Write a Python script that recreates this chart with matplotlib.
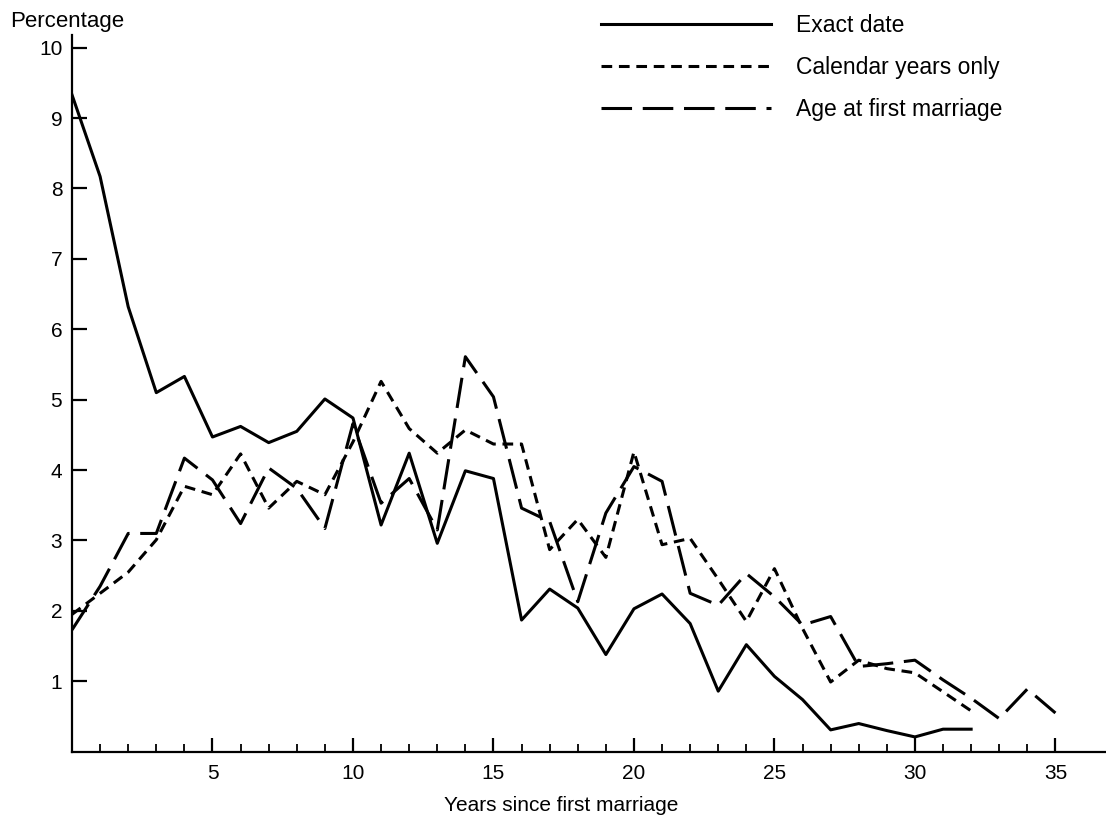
import matplotlib
matplotlib.use("Agg")
import matplotlib.pyplot as plt
from matplotlib.ticker import FixedLocator

plt.rcParams['font.family'] = ['Liberation Sans', 'DejaVu Sans']

# percentages by years since first marriage
years_exact = list(range(0, 33))
exact_date = [9.33, 8.17, 6.32, 5.10, 5.33, 4.47, 4.62, 4.39, 4.55, 5.01,
              4.74, 3.22, 4.24, 2.96, 3.99, 3.88, 1.87, 2.31, 2.04, 1.38,
              2.03, 2.24, 1.82, 0.86, 1.52, 1.07, 0.74, 0.31, 0.40, 0.30,
              0.21, 0.32, 0.32]

years_calendar = list(range(0, 33))
calendar_years = [1.95, 2.25, 2.55, 3.01, 3.77, 3.65, 4.23, 3.46, 3.84, 3.65,
                  4.40, 5.26, 4.59, 4.24, 4.57, 4.37, 4.37, 2.87, 3.30, 2.76,
                  4.26, 2.94, 3.03, 2.45, 1.85, 2.60, 1.75, 0.99, 1.30, 1.18,
                  1.12, 0.85, 0.58]

years_age = list(range(0, 36))
age_first_marriage = [1.73, 2.35, 3.10, 3.10, 4.17, 3.86, 3.24, 4.03, 3.74, 3.17,
                      4.66, 3.53, 3.88, 3.15, 5.61, 5.04, 3.46, 3.27, 2.13, 3.39,
                      4.05, 3.84, 2.25, 2.08, 2.53, 2.20, 1.80, 1.92, 1.21, 1.25,
                      1.30, 1.02, 0.76, 0.47, 0.89, 0.55]

labels = ['Exact date', 'Calendar years only', 'Age at first marriage']

fig = plt.figure(figsize=(11.06, 8.21), dpi=100)
ax = fig.add_axes([0.0651, 0.0844, 0.9349, 0.873])

lw = 2.2
ax.plot(years_exact, exact_date, color='black', lw=lw, label=labels[0])
ax.plot(years_calendar, calendar_years, color='black', lw=lw,
        linestyle=(0, (3.5, 2.2)), label=labels[1])
ax.plot(years_age, age_first_marriage, color='black', lw=lw,
        linestyle=(0, (10, 3.5)), label=labels[2])

ax.set_xlim(0, 36.8)
ax.set_ylim(0, 10.18)

for side in ['top', 'right']:
    ax.spines[side].set_visible(False)
for side in ['left', 'bottom']:
    ax.spines[side].set_linewidth(1.6)

ax.xaxis.set_major_locator(FixedLocator([5, 10, 15, 20, 25, 30, 35]))
ax.xaxis.set_minor_locator(FixedLocator([i for i in range(1, 35) if i % 5 != 0]))
ax.yaxis.set_major_locator(FixedLocator(range(1, 11)))

ax.tick_params(axis='x', which='major', direction='in', length=10, width=1.6,
               pad=9, labelsize=15)
ax.tick_params(axis='x', which='minor', direction='in', length=5.5, width=1.3)
ax.tick_params(axis='y', which='major', direction='in', length=11, width=1.6,
               pad=7, labelsize=15)

fig.text(0.009, 1 - 22 / 821, 'Percentage', fontsize=16, ha='left', va='center')
fig.text(561 / 1106, 1 - 805 / 821, 'Years since first marriage', fontsize=15,
         ha='center', va='center')

ax.legend(loc='upper left', bbox_to_anchor=(601 / 1106, 1 - 14 / 821),
          bbox_transform=fig.transFigure, frameon=False, fontsize=16.5,
          handlelength=7.4, handletextpad=1.1, labelspacing=0.83,
          borderpad=0, borderaxespad=0)

fig.savefig('out.png', dpi=100)
